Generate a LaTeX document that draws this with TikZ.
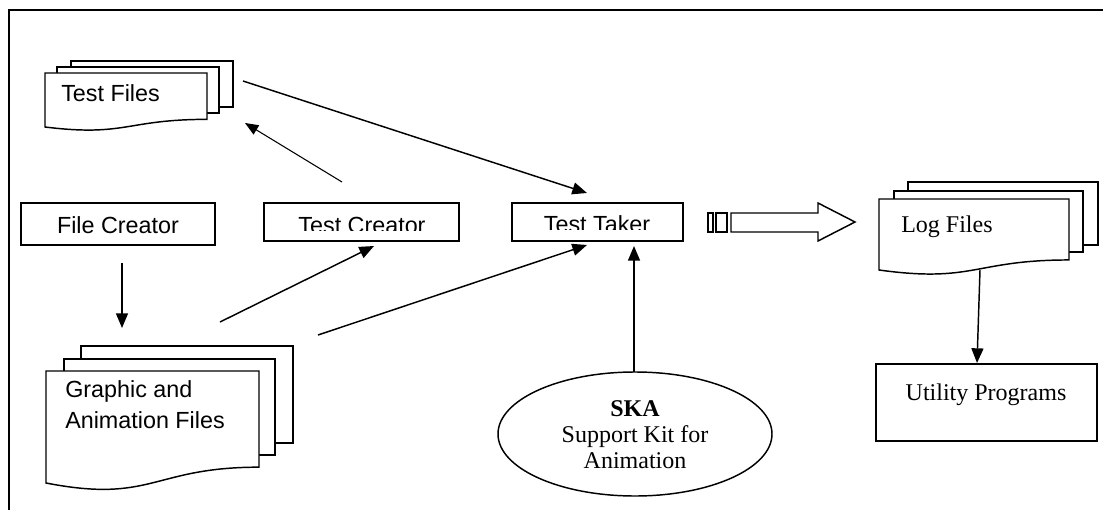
\documentclass[tikz,border=0pt]{standalone}
\usepackage{fontspec}
\setmainfont{Liberation Serif}
\newfontfamily\arialf{Liberation Sans}
\usetikzlibrary{arrows.meta,shapes.geometric}

\tikzset{
  arr/.style={line width=1.1pt, -{Triangle[length=11pt,width=9pt]}},
  thinarr/.style={line width=0.8pt, -{Triangle[length=10pt,width=8pt]}},
  box/.style={draw, line width=1.1pt, fill=white, inner sep=0pt},
  shp/.style={draw, line width=1.1pt, fill=white},
  sans/.style={font=\arialf\fontsize{17.5}{21}\selectfont, inner sep=0pt},
  serif/.style={font=\fontsize{18}{19.5}\selectfont, inner sep=0pt},
}

% front sheet of a multi-document: x1, top, x2, bottom-left y
\newcommand{\docfront}[4]{%
  \pgfmathsetmacro\mdH{(#4-#2)/0.934}%
  \pgfmathsetmacro\mdBR{#2+0.802*\mdH}%
  \pgfmathsetmacro\mdCC{#2+1.107*\mdH}%
  \pgfmathsetmacro\mdMid{(#1+#3)/2}%
  \path[shp] (#1,#2) -- (#3,#2) -- (#3,\mdBR) .. controls (\mdMid,\mdBR) and (\mdMid,\mdCC) .. (#1,#4) -- cycle;}

\begin{document}
\begin{tikzpicture}[x=0.75pt,y=-0.75pt]
\useasboundingbox (0,0) rectangle (1103,510);

% frame
\draw[line width=1.1pt] (9,510) -- (9,10) -- (1103,10);

% Test Files stack
\path[shp] (71,61) rectangle (233,107);
\path[shp] (57,67) rectangle (219,113);
\docfront{45}{73}{207}{127}
\node[sans, anchor=base west] (tf) at (61,102) {Test Files};

% Graphic and Animation Files stack
\path[shp] (81,346) rectangle (293,443);
\path[shp] (64,359) rectangle (275,455);
\docfront{46}{371}{259}{483}
\node[sans, anchor=base west] (ga1) at (65,397) {Graphic and};
\node[sans, anchor=base west] (ga2) at (65,428) {Animation Files};

% Log Files stack
\path[shp] (908,182) rectangle (1098,245);
\path[shp] (894,191) rectangle (1083,252);
\docfront{879}{199}{1069}{270}
\node[serif, anchor=base west] (lf) at (901,232) {Log Files};

% boxes
\node[box, minimum width=145.5pt, minimum height=31.5pt] (fcbox) at (118,224) {};
\node[sans] (fc) at (118,225) {File Creator};

\node[box, minimum width=146.25pt, minimum height=28.5pt] (tcbox) at (361.5,222) {};
\begin{scope}
  \clip (264,203) rectangle (459,230);
  \node[sans, anchor=base] (tc) at (362,233) {Test Creator};
\end{scope}

\node[box, minimum width=128.25pt, minimum height=28.5pt] (ttbox) at (597.5,222) {};
\begin{scope}
  \clip (512,203) rectangle (683,229);
  \node[sans, anchor=base] (tt) at (597,232) {Test Taker};
\end{scope}

\node[box, minimum width=165.75pt, minimum height=57.75pt] (upbox) at (986.5,402.5) {};
\node[serif, anchor=base] (up) at (986,400) {Utility Programs};

% SKA ellipse
\node[ellipse, draw, line width=1.1pt, minimum width=205.5pt, minimum height=93pt, inner sep=0pt] (ska) at (635,434) {};
\node[serif, align=center] (skat) at (635,435) {\textbf{SKA}\\Support Kit for\\Animation};

% connector end points
\coordinate (tfOut) at (243,81);
\coordinate (ttTop) at (587,193);
\coordinate (tcOut) at (342,182);
\coordinate (tfIn) at (245,123);
\coordinate (fcOut) at (122,263);
\coordinate (gaIn) at (122,328);
\coordinate (gaOut1) at (220,322);
\coordinate (tcIn) at (374,246);
\coordinate (gaOut2) at (318,335);
\coordinate (ttIn) at (587,245);
\coordinate (skaTop) at (634,372);
\coordinate (ttBot) at (634,246);
\coordinate (lfOut) at (980,270);
\coordinate (upIn) at (977,363);

\draw[arr] (tfOut) -- (ttTop);
\draw[thinarr] (tcOut) -- (tfIn);
\draw[arr] (fcOut) -- (gaIn);
\draw[arr] (gaOut1) -- (tcIn);
\draw[arr] (gaOut2) -- (ttIn);
\draw[arr] (skaTop) -- (ttBot);
\draw[arr] (lfOut) -- (upIn);

% block arrow
\draw[line width=1.1pt] (708,213) rectangle (713,232);
\draw[line width=1.1pt] (716,213) rectangle (727,232);
\draw[line width=1.1pt, line join=miter] (731,213) -- (818,213) -- (818,203) -- (855,222) -- (818,241) -- (818,232) -- (731,232) -- cycle;
\end{tikzpicture}
\end{document}
